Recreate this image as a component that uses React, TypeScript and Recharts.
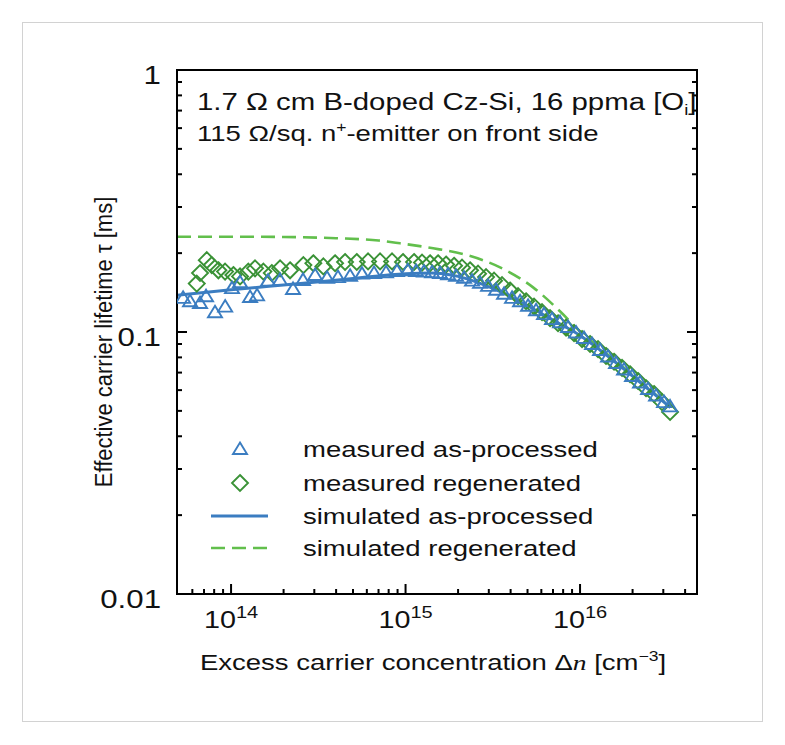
import { ComposedChart, XAxis, YAxis, Line, Scatter, Legend } from "recharts";

// axis ticks (log decades + minor ticks)
const xMajor = [1e14, 1e15, 1e16];
const xMinor = [
  6e13, 7e13, 8e13, 9e13,
  2e14, 3e14, 4e14, 5e14, 6e14, 7e14, 8e14, 9e14,
  2e15, 3e15, 4e15, 5e15, 6e15, 7e15, 8e15, 9e15,
  2e16, 3e16, 4e16,
];
const yMajor = [0.01, 0.1, 1];
const yMinor = [
  0.02, 0.03, 0.04, 0.05, 0.06, 0.07, 0.08, 0.09,
  0.2, 0.3, 0.4, 0.5, 0.6, 0.7, 0.8, 0.9,
];

// measured as-processed (triangles): Δn [cm^-3], τ [ms]
const triN = [
  5.31e13, 5.82e13, 6.64e13, 7.19e13, 8.09e13, 9.25e13, 1.013e14, 1.126e14,
  1.285e14, 1.409e14, 1.63e14, 1.908e14, 2.266e14, 2.585e14, 3.03e14, 3.55e14,
  4.1e14, 4.81e14, 5.63e14, 6.6e14, 7.73e14, 8.93e14, 1.03e15,
  1.149e15, 1.276e15, 1.419e15, 1.576e15, 1.752e15, 1.947e15, 2.164e15, 2.405e15,
  2.673e15, 2.971e15, 3.301e15, 3.669e15, 4.077e15, 4.532e15, 5.035e15, 5.596e15,
  6.219e15, 6.91e15, 7.681e15, 8.536e15, 9.487e15, 1.054e16, 1.172e16, 1.302e16,
  1.447e16, 1.608e16, 1.787e16, 1.986e16, 2.207e16, 2.453e16, 2.726e16, 3.03e16,
  3.28e16,
];
const triTau = [
  0.135, 0.131, 0.129, 0.137, 0.119, 0.125, 0.147, 0.155,
  0.136, 0.138, 0.157, 0.158, 0.146, 0.158, 0.165, 0.161,
  0.162, 0.164, 0.167, 0.168, 0.169, 0.171, 0.172,
  0.171, 0.17, 0.169, 0.168, 0.166, 0.164, 0.161, 0.157,
  0.154, 0.15, 0.145, 0.14, 0.135, 0.131, 0.126, 0.121,
  0.117, 0.112, 0.109, 0.1045, 0.0996, 0.0949, 0.09, 0.0854,
  0.0806, 0.0762, 0.0719, 0.0679, 0.0642, 0.0606, 0.0572, 0.054,
  0.052,
];

// measured regenerated (diamonds)
const diaN = [
  6.36e13, 6.64e13, 7.26e13, 7.75e13, 8.46e13, 9.24e13, 1.031e14, 1.126e14,
  1.256e14, 1.372e14, 1.532e14, 1.711e14, 1.91e14, 2.178e14, 2.597e14, 2.962e14,
  3.381e14, 3.945e14, 4.501e14, 5.253e14, 6.097e14, 7.143e14, 8.367e14, 9.67e14,
  1.119e15, 1.243e15, 1.382e15, 1.536e15, 1.707e15, 1.897e15, 2.107e15, 2.342e15,
  2.603e15, 2.893e15, 3.215e15, 3.573e15, 3.971e15, 4.413e15, 4.904e15, 5.45e15,
  6.056e15, 6.731e15, 7.48e15, 8.313e15, 9.239e15, 1.027e16, 1.141e16, 1.268e16,
  1.409e16, 1.566e16, 1.741e16, 1.934e16, 2.15e16, 2.389e16, 2.655e16, 2.951e16,
  3.28e16,
];
const diaTau = [
  0.153, 0.168, 0.188, 0.18, 0.172, 0.17, 0.165, 0.163,
  0.17, 0.175, 0.17, 0.168, 0.175, 0.172, 0.18, 0.183,
  0.178, 0.183, 0.185, 0.185, 0.186, 0.186, 0.186, 0.185,
  0.185, 0.184, 0.183, 0.183, 0.181, 0.179, 0.176, 0.172,
  0.167, 0.162, 0.157, 0.151, 0.144, 0.137, 0.131, 0.125,
  0.119, 0.113, 0.108, 0.104, 0.099, 0.094, 0.09, 0.086,
  0.081, 0.077, 0.073, 0.069, 0.065, 0.061, 0.058, 0.054,
  0.0495,
];

// simulated curves
const simAsN = [4.9e13, 1e14, 2.5e14, 5e14, 1e15, 1.4e15, 2e15, 2.7e15, 3.7e15, 5e15, 7e15, 1e16, 1.3e16, 1.8e16, 2.5e16, 3.3e16];
const simAsTau = [0.138, 0.145, 0.153, 0.16, 0.167, 0.168, 0.163, 0.153, 0.14, 0.126, 0.111, 0.097, 0.0854, 0.0719, 0.06, 0.0515];
const simRegN = [4.9e13, 1e14, 2e14, 4e14, 7e14, 9.3e14, 1.44e15, 2.24e15, 3.48e15, 5.38e15, 7.67e15, 1e16, 1.3e16, 1.8e16, 2.5e16, 3.3e16];
const simRegTau = [0.231, 0.231, 0.2305, 0.228, 0.2235, 0.218, 0.2087, 0.1967, 0.1765, 0.148, 0.12, 0.1005, 0.0868, 0.0727, 0.0604, 0.0518];

const legendLabels = [
  "measured as-processed",
  "measured regenerated",
  "simulated as-processed",
  "simulated regenerated",
];

const pairs = (n: number[], tau: number[]) => n.map((v, i) => ({ n: v, tau: tau[i] }));
const tri = pairs(triN, triTau);
const dia = pairs(diaN, diaTau);
const simAs = pairs(simAsN, simAsTau);
const simReg = pairs(simRegN, simRegTau);

const xTicks = [...xMinor, ...xMajor].sort((a, b) => a - b);
const yTicks = [...yMinor, ...yMajor].sort((a, b) => a - b);

const FONT = "'Liberation Sans', Arial, Helvetica, sans-serif";
const INK = "#111";
const BLUE = "#3b7dc1";
const GREEN = "#3a9236";
const LIGHT_GREEN = "#62bf4c";
const SX = 1.25; // horizontal text stretch

function Txt({ x, y, size = 22, anchor = "start", sx = SX, rotate = false, children }: any) {
  const t = `translate(${x},${y}) scale(${sx},1)` + (rotate ? " rotate(-90)" : "");
  return (
    <text transform={t} fontSize={size} fontFamily={FONT} textAnchor={anchor} fill={INK}>
      {children}
    </text>
  );
}

const tri3 = (cx: number, cy: number) => `${cx},${cy - 6.5} ${cx + 7},${cy + 5} ${cx - 7},${cy + 5}`;
const dia4 = (cx: number, cy: number) => `${cx},${cy - 8} ${cx + 8},${cy} ${cx},${cy + 8} ${cx - 8},${cy}`;

const TriangleMark = (p: any) => (
  <polygon points={tri3(p.cx, p.cy)} fill="none" stroke={BLUE} strokeWidth={1.9} />
);
const DiamondMark = (p: any) => (
  <polygon points={dia4(p.cx, p.cy)} fill="none" stroke={GREEN} strokeWidth={1.9} />
);

// tick marks point into the plot, labels sit outside
function BottomTick({ x, y, payload }: any) {
  const v = payload.value;
  const major = xMajor.includes(v);
  return (
    <g>
      <line x1={x} x2={x} y1={y} y2={y - (major ? 10 : 5)} stroke="#000" strokeWidth={2} />
      {major && (
        <Txt x={x} y={y + 34} size={23} anchor="middle">
          10
          <tspan fontSize={16} dy={-10}>
            {Math.round(Math.log10(v))}
          </tspan>
        </Txt>
      )}
    </g>
  );
}

function TopTick({ x, y, payload }: any) {
  const major = xMajor.includes(payload.value);
  return <line x1={x} x2={x} y1={y} y2={y + (major ? 10 : 5)} stroke="#000" strokeWidth={2} />;
}

function LeftTick({ x, y, payload }: any) {
  const v = payload.value;
  const major = yMajor.includes(v);
  return (
    <g>
      <line x1={x} x2={x + (major ? 10 : 5)} y1={y} y2={y} stroke="#000" strokeWidth={2} />
      {major && (
        <Txt x={x - 16} y={y + 14} size={25} anchor="end">
          {String(v)}
        </Txt>
      )}
    </g>
  );
}

function RightTick({ x, y, payload }: any) {
  const major = yMajor.includes(payload.value);
  return <line x1={x} x2={x - (major ? 10 : 5)} y1={y} y2={y} stroke="#000" strokeWidth={2} />;
}

function LegendBox() {
  const rows = [19, 53, 86, 118];
  return (
    <svg width={430} height={140} style={{ display: "block" }}>
      <TriangleMark cx={35} cy={rows[0]} />
      <DiamondMark cx={35} cy={rows[1]} />
      <line x1={6} x2={63} y1={rows[2]} y2={rows[2]} stroke={BLUE} strokeWidth={3} />
      <line x1={6} x2={63} y1={rows[3]} y2={rows[3]} stroke={LIGHT_GREEN} strokeWidth={2.6} strokeDasharray="14 7" />
      {legendLabels.map((t, i) => (
        <Txt key={t} x={98} y={rows[i] + 8}>
          {t}
        </Txt>
      ))}
    </svg>
  );
}

const axisLine = { stroke: "#000", strokeWidth: 2, strokeLinecap: "square" as const };
const xDomain = [4.9e13, 4.68e16];
const yDomain = [0.01, 1];

export default function App() {
  return (
    <div style={{ position: "relative", width: 769, height: 729 }}>
      <div
        style={{
          position: "absolute",
          left: 14,
          top: 14,
          width: 741,
          height: 700,
          border: "1px solid #d2d2d2",
          boxSizing: "border-box",
        }}
      />
      <ComposedChart
        width={769}
        height={729}
        margin={{ top: 61, right: 79, bottom: 142, left: 168 }}
        style={{ position: "absolute", left: 0, top: 0 }}
      >
        <XAxis
          xAxisId="b"
          dataKey="n"
          type="number"
          scale="log"
          domain={xDomain}
          allowDataOverflow
          ticks={xTicks}
          interval={0}
          height={1}
          tickSize={0}
          tickMargin={0}
          tickLine={false}
          axisLine={axisLine}
          tick={<BottomTick />}
        />
        <XAxis
          xAxisId="t"
          orientation="top"
          type="number"
          scale="log"
          domain={xDomain}
          allowDataOverflow
          ticks={xTicks}
          interval={0}
          height={1}
          tickSize={0}
          tickMargin={0}
          tickLine={false}
          axisLine={axisLine}
          tick={<TopTick />}
        />
        <YAxis
          yAxisId="l"
          dataKey="tau"
          type="number"
          scale="log"
          domain={yDomain}
          allowDataOverflow
          ticks={yTicks}
          interval={0}
          width={1}
          tickSize={0}
          tickMargin={0}
          tickLine={false}
          axisLine={axisLine}
          tick={<LeftTick />}
        />
        <YAxis
          yAxisId="r"
          orientation="right"
          type="number"
          scale="log"
          domain={yDomain}
          allowDataOverflow
          ticks={yTicks}
          interval={0}
          width={1}
          tickSize={0}
          tickMargin={0}
          tickLine={false}
          axisLine={axisLine}
          tick={<RightTick />}
        />
        <Line
          xAxisId="b"
          yAxisId="l"
          data={simReg}
          dataKey="tau"
          type="monotone"
          stroke={LIGHT_GREEN}
          strokeWidth={2.6}
          strokeDasharray="14 7"
          dot={false}
          activeDot={false}
          isAnimationActive={false}
        />
        <Scatter
          xAxisId="b"
          yAxisId="l"
          data={dia}
          dataKey="tau"
          shape={(p: any) => <DiamondMark cx={p.cx} cy={p.cy} />}
          isAnimationActive={false}
        />
        <Line
          xAxisId="b"
          yAxisId="l"
          data={simAs}
          dataKey="tau"
          type="monotone"
          stroke={BLUE}
          strokeWidth={3}
          dot={false}
          activeDot={false}
          isAnimationActive={false}
        />
        <Scatter
          xAxisId="b"
          yAxisId="l"
          data={tri}
          dataKey="tau"
          shape={(p: any) => <TriangleMark cx={p.cx} cy={p.cy} />}
          isAnimationActive={false}
        />
        <Legend
          layout="vertical"
          align="center"
          verticalAlign="middle"
          wrapperStyle={{ left: 197, top: 422, width: 430, height: 140 }}
          content={() => <LegendBox />}
        />
      </ComposedChart>
      <svg
        width={769}
        height={729}
        style={{ position: "absolute", left: 0, top: 0, pointerEvents: "none" }}
      >
        <Txt x={189} y={102} size={23.5}>
          1.7 Ω cm B-doped Cz-Si, 16 ppma [O
          <tspan fontSize={15} dy={5}>
            i
          </tspan>
          <tspan dy={-5}>]</tspan>
        </Txt>
        <Txt x={189} y={133}>
          115 Ω/sq. n
          <tspan fontSize={14} dy={-9}>
            +
          </tspan>
          <tspan dy={9}>-emitter on front side</tspan>
        </Txt>
        <Txt x={425} y={662} anchor="middle">
          Excess carrier concentration Δ
          <tspan fontFamily="'Liberation Serif', 'Times New Roman', serif" fontStyle="italic">
            n
          </tspan>{" "}
          [cm
          <tspan fontSize={14} dy={-9}>
            −3
          </tspan>
          <tspan dy={9}>]</tspan>
        </Txt>
        <Txt x={104} y={334} size={22} sx={1.1} anchor="middle" rotate>
          Effective carrier lifetime τ [ms]
        </Txt>
      </svg>
    </div>
  );
}
